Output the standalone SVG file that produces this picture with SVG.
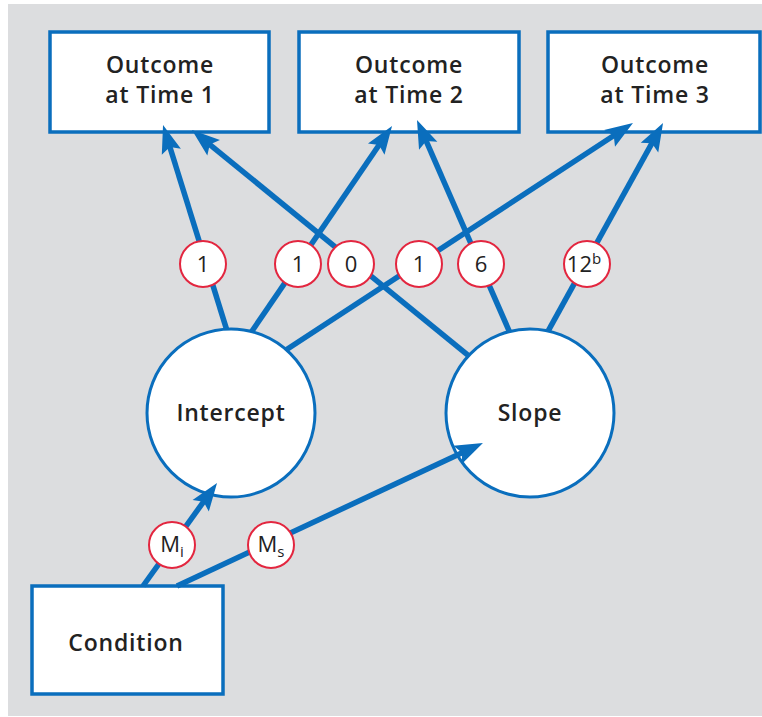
<svg xmlns="http://www.w3.org/2000/svg" width="762" height="717" viewBox="0 0 762 717">
<defs>
<marker id="ah" markerUnits="userSpaceOnUse" markerWidth="40" markerHeight="30" viewBox="-20 -15 40 30" refX="0" refY="0" orient="auto">
<path d="M-18,-10 L10,0 L-18,10 L-13,0 z" fill="#0a6ebd"/>
</marker>
<style>
.bx{fill:#fff;stroke:#0a6ebd;stroke-width:3.5}
.cir{fill:#fff;stroke:#0a6ebd;stroke-width:3}
.lab{fill:#fff;stroke:#e3263f;stroke-width:2}
.cn{stroke:#0a6ebd;stroke-width:5.5;fill:none;marker-end:url(#ah)}
.t{font-family:"Open Sans","Liberation Sans",sans-serif;font-weight:600;font-size:23px;letter-spacing:0.8px;fill:#222;text-anchor:middle}
.n{font-family:"Open Sans","Liberation Sans",sans-serif;font-size:22px;fill:#222;text-anchor:middle}
</style>
</defs>
<rect x="8" y="4" width="754" height="712" fill="#dcdddf"/>
<g id="time1"><rect class="bx" x="50" y="32" width="219" height="100"/><text class="t" x="160" y="73">Outcome</text><text class="t" x="160" y="103">at Time 1</text></g>
<g id="time2"><rect class="bx" x="299" y="32" width="220" height="100"/><text class="t" x="409" y="73">Outcome</text><text class="t" x="409" y="103">at Time 2</text></g>
<g id="time3"><rect class="bx" x="548" y="32" width="212" height="100"/><text class="t" x="655" y="73">Outcome</text><text class="t" x="655" y="103">at Time 3</text></g>
<g id="intercept"><circle class="cir" cx="231" cy="413" r="84"/><text class="t" x="231" y="421">Intercept</text></g>
<g id="slope"><circle class="cir" cx="530" cy="413" r="84"/><text class="t" x="530" y="421">Slope</text></g>
<g id="condition"><rect class="bx" x="32" y="586" width="191" height="108"/><text class="t" x="126" y="651">Condition</text></g>
<g id="connectors">
<line class="cn" x1="226.5" y1="329.1" x2="166" y2="134.5"/>
<line class="cn" x1="468.5" y1="355.7" x2="199.7" y2="136.3"/>
<line class="cn" x1="251.7" y1="331.6" x2="386.4" y2="134.3"/>
<line class="cn" x1="509.4" y1="331.6" x2="421" y2="129.2"/>
<line class="cn" x1="286.3" y1="349.8" x2="624.6" y2="128.5"/>
<line class="cn" x1="548.2" y1="330.8" x2="658.2" y2="131.8"/>
<line class="cn" x1="143" y1="586" x2="211.2" y2="491.1"/>
<line class="cn" x1="177" y1="586" x2="473.9" y2="447.2"/>
</g>
<g id="labels">
<g id="l1"><circle class="lab" cx="203" cy="264" r="23"/><text class="n" x="203" y="272">1</text></g>
<g id="l2"><circle class="lab" cx="298" cy="264" r="23"/><text class="n" x="298" y="272">1</text></g>
<g id="l3"><circle class="lab" cx="351" cy="264" r="23"/><text class="n" x="351" y="272">0</text></g>
<g id="l4"><circle class="lab" cx="419" cy="264" r="23"/><text class="n" x="419" y="272">1</text></g>
<g id="l5"><circle class="lab" cx="481" cy="264" r="23"/><text class="n" x="481" y="272">6</text></g>
<g id="l6"><circle class="lab" cx="587" cy="264" r="23"/><text class="n" x="584" y="272">12<tspan font-size="15" dy="-8">b</tspan></text></g>
<g id="lmi"><circle class="lab" cx="172" cy="545" r="23"/><text class="n" x="172" y="552">M<tspan font-size="15" dy="5">i</tspan></text></g>
<g id="lms"><circle class="lab" cx="271" cy="545" r="23"/><text class="n" x="271" y="552">M<tspan font-size="15" dy="5">s</tspan></text></g>
</g>
</svg>
